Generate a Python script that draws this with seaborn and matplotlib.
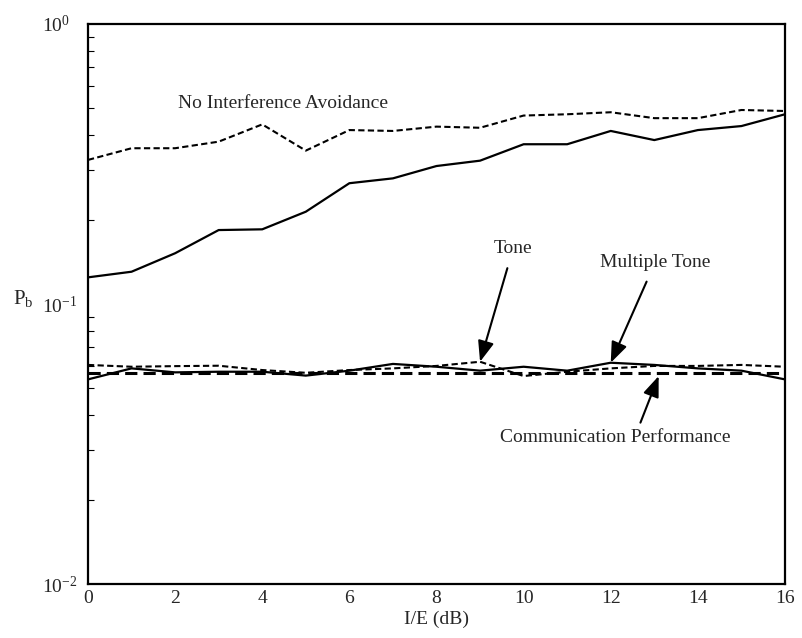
import matplotlib
matplotlib.use("Agg")
import matplotlib.pyplot as plt
import seaborn as sns
import numpy as np

# I/E in dB
ie_db = [0, 1, 2, 3, 4, 5, 6, 7, 8, 9, 10, 11, 12, 13, 14, 15, 16]

# bit error probability for each case
no_avoid = [0.327, 0.360, 0.360, 0.380, 0.438, 0.353, 0.418, 0.415, 0.430,
            0.426, 0.471, 0.476, 0.484, 0.461, 0.461, 0.493, 0.489]
no_avoid_solid = [0.1245, 0.1304, 0.1518, 0.1837, 0.1848, 0.2136, 0.270, 0.281, 0.311,
                  0.325, 0.372, 0.372, 0.415, 0.385, 0.418, 0.432, 0.476]
tone = [0.0606, 0.0597, 0.0600, 0.0602, 0.0581, 0.0568, 0.0581, 0.0589, 0.0601,
        0.0622, 0.0553, 0.0573, 0.0589, 0.0601, 0.0601, 0.0606, 0.0597]
multi_tone = [0.0538, 0.0589, 0.0570, 0.0573, 0.0573, 0.0555, 0.0578, 0.0611, 0.0597,
              0.0578, 0.0597, 0.0578, 0.0617, 0.0606, 0.0589, 0.0578, 0.0538]
comm_perf = [0.0566, 0.0566, 0.0566, 0.0566, 0.0566, 0.0566, 0.0566, 0.0566, 0.0566,
             0.0566, 0.0566, 0.0566, 0.0566, 0.0566, 0.0566, 0.0566, 0.0566]

sns.set_theme(style="white")
plt.rcParams["font.family"] = ["Liberation Serif", "DejaVu Serif"]
plt.rcParams["mathtext.fontset"] = "custom"
plt.rcParams["mathtext.rm"] = "Liberation Serif"
plt.rcParams["mathtext.it"] = "Liberation Serif:italic"

fig = plt.figure(figsize=(8.02, 6.38), dpi=100)
ax = fig.add_axes([0.1097, 0.0846, 0.8691, 0.8778])

sns.lineplot(x=ie_db, y=no_avoid, ax=ax, color="black", lw=1.5,
             linestyle=(0, (3, 1.6)), estimator=None)
sns.lineplot(x=ie_db, y=no_avoid_solid, ax=ax, color="black", lw=1.6, estimator=None)
sns.lineplot(x=ie_db, y=comm_perf, ax=ax, color="black", lw=2.2,
             linestyle=(0, (4, 2)), estimator=None)
sns.lineplot(x=ie_db, y=tone, ax=ax, color="black", lw=1.5,
             linestyle=(0, (3, 1.6)), estimator=None)
sns.lineplot(x=ie_db, y=multi_tone, ax=ax, color="black", lw=1.6, estimator=None)

ax.set_yscale("log")
ax.set_xlim(0, 16)
ax.set_ylim(1e-2, 1)
ax.set_xticks(np.arange(0, 17, 2))
ax.set_yticks([1e-2, 1e-1, 1])
ax.tick_params(axis="both", which="both", direction="in", labelsize=14, color="black")
ax.tick_params(axis="both", which="major", length=6, width=1)
ax.tick_params(axis="y", which="minor", length=4, width=0.8, left=True)
ax.tick_params(axis="x", pad=4)
# y labels start at the same left edge, like the original
ax.tick_params(axis="y", pad=33)
for lab in ax.get_yticklabels():
    lab.set_ha("left")
for s in ax.spines.values():
    s.set_color("black")
    s.set_linewidth(1.6)
ax.set_xlabel("I/E (dB)", fontsize=14, labelpad=3)
ax.set_ylabel("")
fig.text(0.016, 0.532, r"$\mathregular{P_b}$", fontsize=15, va="center")

# labels and arrows
ax.text(4.48, 0.522, "No Interference Avoidance", fontsize=14, ha="center", va="center")
arrow = dict(arrowstyle="-|>,head_length=0.9,head_width=0.35", color="black", lw=1.5,
             shrinkA=6, shrinkB=0)
ax.annotate("Tone", xy=(9.0, 0.0622), xytext=(9.76, 0.158), fontsize=14,
            ha="center", va="center", arrowprops=arrow)
ax.annotate("Multiple Tone", xy=(12.0, 0.0617), xytext=(13.02, 0.141), fontsize=14,
            ha="center", va="center", arrowprops=arrow)
ax.annotate("Communication Performance", xy=(13.1, 0.0553), xytext=(12.1, 0.0335),
            fontsize=14, ha="center", va="center",
            arrowprops=dict(arrow, relpos=(0.6, 1.0), shrinkA=2))

fig.savefig("out.png", dpi=100)
